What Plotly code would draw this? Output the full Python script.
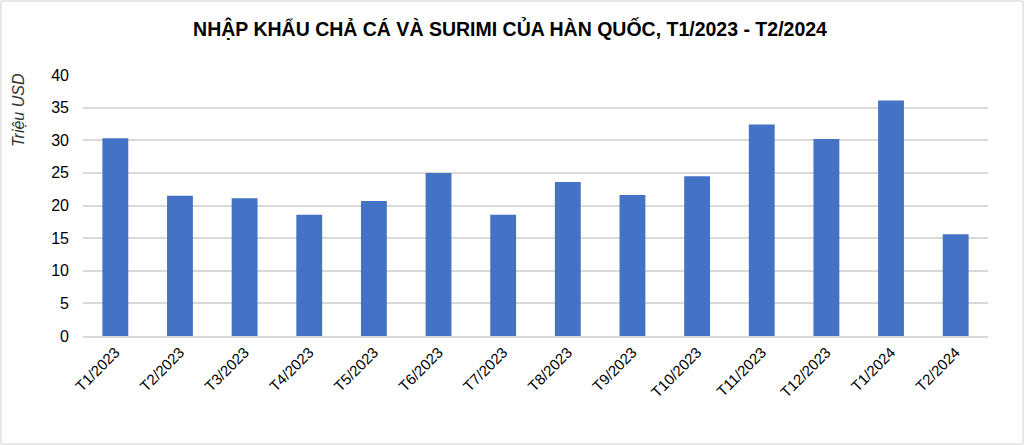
import plotly.graph_objects as go

categories = ["T1/2023", "T2/2023", "T3/2023", "T4/2023", "T5/2023", "T6/2023", "T7/2023",
              "T8/2023", "T9/2023", "T10/2023", "T11/2023", "T12/2023", "T1/2024", "T2/2024"]
values = [30.3, 21.5, 21.1, 18.6, 20.7, 25.0, 18.6, 23.6, 21.6, 24.5, 32.4, 30.2, 36.1, 15.6]
y_ticks = [0, 5, 10, 15, 20, 25, 30, 35, 40]

W, H = 1024, 445
ML, MR, MT, MB = 83, 36, 75, 109
pw = W - ML - MR
ph = H - MT - MB

fig = go.Figure(go.Bar(x=categories, y=values, marker=dict(color="#4472C4", line=dict(width=0)),
                       width=0.4))

fig.add_shape(type="rect", xref="paper", yref="paper",
              x0=-(ML - 1) / pw, x1=1 + (MR - 1) / pw,
              y0=-(MB - 1) / ph, y1=1 + (MT - 1) / ph,
              line=dict(color="#D0D0D0", width=1), layer="below")

fig.add_annotation(text="<i>Triệu USD</i>", xref="paper", yref="paper",
                   x=(18 - ML) / pw, y=1 + 4 / ph, xanchor="center", yanchor="top",
                   textangle=-90, showarrow=False,
                   font=dict(size=16, color="#333333"))

fig.update_layout(
    width=W, height=H,
    margin=dict(l=ML, r=MR, t=MT, b=MB),
    paper_bgcolor="white", plot_bgcolor="white",
    showlegend=False,
    font=dict(family="Liberation Sans, Arial, sans-serif", color="#000000"),
    title=dict(text="<b>NHẬP KHẨU CHẢ CÁ VÀ SURIMI CỦA HÀN QUỐC, T1/2023 - T2/2024</b>",
               x=(510 - ML) / pw, xref="paper", xanchor="center", y=1 - 29 / H, yanchor="middle",
               font=dict(size=19.5, color="#000000")),
    xaxis=dict(tickangle=-45, tickfont=dict(size=15, color="#000000"), showgrid=False,
               showline=True, linecolor="#D9D9D9", linewidth=1.5, ticks="", zeroline=False,
               automargin=False),
    yaxis=dict(range=[0, 40], tickvals=y_ticks, tickfont=dict(size=16, color="#000000"),
               showgrid=True, gridcolor="#D9D9D9", gridwidth=1.5, zeroline=False,
               ticks="", showline=False, automargin=False, ticklabelstandoff=13),
)

fig.write_html("out.html", config={"displayModeBar": False},
               post_script="document.body.style.margin='0px';")
